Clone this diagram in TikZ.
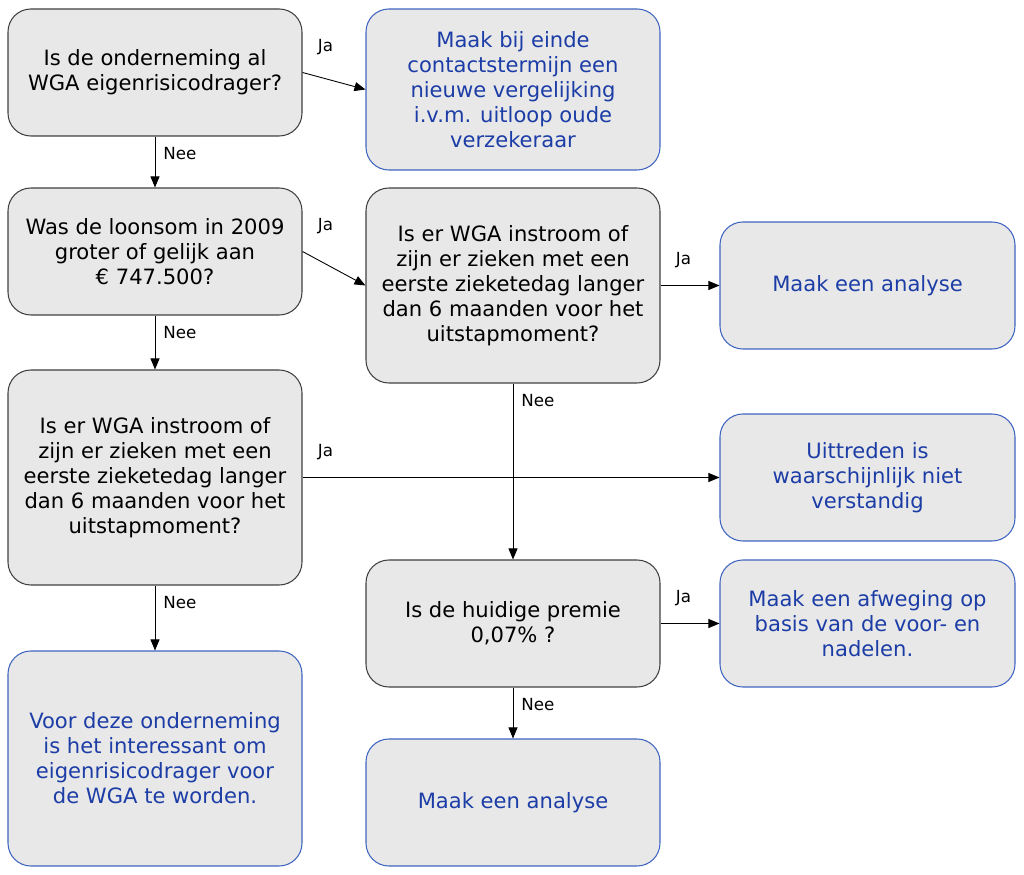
\documentclass[tikz,border=0pt]{standalone}
\usepackage{fontspec}
\setmainfont{DejaVu Sans}
\usepackage{xcolor}
\usepackage{tikz}
\usetikzlibrary{positioning, arrows.meta}
\definecolor{flGray}{HTML}{E8E8E8}
\definecolor{flLine}{HTML}{404040}
\definecolor{flBlue}{HTML}{3F65C0}
\definecolor{flBlueText}{HTML}{1C3DA6}
\tikzset{
  question/.style={
    rectangle, rounded corners=13pt,
    draw=flLine, line width=0.6pt,
    fill=flGray,
    inner sep=4pt,
    minimum width=5.88cm, minimum height=2.54cm,
    align=center,
    font=\fontsize{12}{14.2}\selectfont
  },
  advice/.style={
    question, draw=flBlue, text=flBlueText
  },
  arrow/.style={
    -{Triangle[length=2.2mm, width=1.8mm]},
    black, line width=0.5pt
  },
  ja/.style={font=\fontsize{9.5}{11}\selectfont, anchor=center, xshift=0.46cm, yshift=0.5cm},
  nee/.style={font=\fontsize{9.5}{11}\selectfont, anchor=center, xshift=0.5cm, yshift=-0.34cm}
}

\begin{document}
\begin{tikzpicture}
        \useasboundingbox (0,0) rectangle (20.48,-17.5);
        \node[question] (eigen) at (3.10,-1.45) {Is de onderneming al\\WGA eigenrisicodrager?};
        \node[advice, minimum height=3.22cm] (vergelijk) at (10.26,-1.79) {Maak bij einde\\contactstermijn een\\nieuwe vergelijking\\i.v.m. uitloop oude\\verzekeraar};
        \node[question] (loonsom) at (3.10,-5.03) {Was de loonsom in 2009\\groter of gelijk aan\\€ 747.500?};
        \node[question, minimum height=3.90cm] (instroomA) at (10.26,-5.71) {Is er WGA instroom of\\zijn er zieken met een\\eerste zieketedag langer\\dan 6 maanden voor het\\uitstapmoment?};
        \node[advice, minimum width=5.90cm] (analyseA) at (17.35,-5.71) {Maak een analyse};
        \node[question, minimum height=4.30cm] (instroomB) at (3.10,-9.55) {Is er WGA instroom of\\zijn er zieken met een\\eerste zieketedag langer\\dan 6 maanden voor het\\uitstapmoment?};
        \node[advice, minimum width=5.90cm] (uittreden) at (17.35,-9.55) {Uittreden is\\waarschijnlijk niet\\verstandig};
        \node[question] (premie) at (10.26,-12.47) {Is de huidige premie\\0,07\% ?};
        \node[advice, minimum width=5.90cm] (afweging) at (17.35,-12.47) {Maak een afweging op\\basis van de voor- en\\nadelen.};
        \node[advice] (analyseB) at (10.26,-16.05) {Maak een analyse};
        \node[advice, minimum height=4.30cm] (interessant) at (3.10,-15.17) {Voor deze onderneming\\is het interessant om\\eigenrisicodrager voor\\de WGA te worden.};
        \draw[arrow] (eigen.east) -- (vergelijk.west) node[ja, at start] {Ja};
        \draw[arrow] (eigen.south) -- (loonsom.north) node[nee, at start] {Nee};
        \draw[arrow] (loonsom.east) -- (instroomA.west) node[ja, at start] {Ja};
        \draw[arrow] (loonsom.south) -- (instroomB.north) node[nee, at start] {Nee};
        \draw[arrow] (instroomA.east) -- (analyseA.west) node[ja, at start] {Ja};
        \draw[arrow] (instroomA.south) -- (premie.north) node[nee, at start] {Nee};
        \draw[arrow] (instroomB.east) -- (uittreden.west) node[ja, at start] {Ja};
        \draw[arrow] (instroomB.south) -- (interessant.north) node[nee, at start] {Nee};
        \draw[arrow] (premie.east) -- (afweging.west) node[ja, at start] {Ja};
        \draw[arrow] (premie.south) -- (analyseB.north) node[nee, at start] {Nee};
      \end{tikzpicture}
\end{document}
